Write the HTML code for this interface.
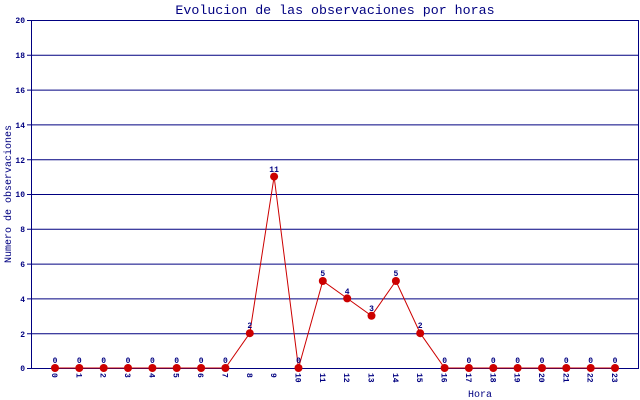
<!DOCTYPE html>
<html><head><style>body{margin:0;background:#fff}svg{display:block}</style></head>
<body>
<svg width="640" height="400" xmlns="http://www.w3.org/2000/svg" font-family="Liberation Mono, monospace" fill="#000080">
<text x="335" y="14" font-size="13.3" text-anchor="middle">Evolucion de las observaciones por horas</text>
<g stroke="#000080" stroke-width="1">
<line x1="27" y1="20.5" x2="639" y2="20.5"/>
<line x1="27" y1="55.3" x2="639" y2="55.3"/>
<line x1="27" y1="90.1" x2="639" y2="90.1"/>
<line x1="27" y1="124.9" x2="639" y2="124.9"/>
<line x1="27" y1="159.7" x2="639" y2="159.7"/>
<line x1="27" y1="194.5" x2="639" y2="194.5"/>
<line x1="27" y1="229.3" x2="639" y2="229.3"/>
<line x1="27" y1="264.1" x2="639" y2="264.1"/>
<line x1="27" y1="298.9" x2="639" y2="298.9"/>
<line x1="27" y1="333.7" x2="639" y2="333.7"/>
<line x1="27" y1="368.5" x2="639" y2="368.5"/>
<line x1="31.5" y1="20" x2="31.5" y2="368"/>
<line x1="638.5" y1="20" x2="638.5" y2="368"/>
</g>
<g font-size="8" text-anchor="end" font-weight="bold">
<text x="25" y="23">20</text><text x="25" y="58">18</text><text x="25" y="93">16</text><text x="25" y="128">14</text><text x="25" y="163">12</text><text x="25" y="197">10</text><text x="25" y="232">8</text><text x="25" y="267">6</text><text x="25" y="302">4</text><text x="25" y="337">2</text><text x="25" y="371">0</text>
</g>
<text transform="translate(11,194) rotate(-90)" font-size="10" text-anchor="middle">Numero de observaciones</text>
<text x="480" y="397" font-size="10" text-anchor="middle">Hora</text>
<g font-size="8" text-anchor="start" font-weight="bold">
<text transform="translate(52,373) rotate(90)">0</text><text transform="translate(76.3,373) rotate(90)">1</text><text transform="translate(100.7,373) rotate(90)">2</text><text transform="translate(125,373) rotate(90)">3</text><text transform="translate(149.4,373) rotate(90)">4</text><text transform="translate(173.7,373) rotate(90)">5</text><text transform="translate(198.1,373) rotate(90)">6</text><text transform="translate(222.4,373) rotate(90)">7</text><text transform="translate(246.8,373) rotate(90)">8</text><text transform="translate(271.1,373) rotate(90)">9</text><text transform="translate(295.5,373) rotate(90)">10</text><text transform="translate(319.8,373) rotate(90)">11</text><text transform="translate(344.2,373) rotate(90)">12</text><text transform="translate(368.5,373) rotate(90)">13</text><text transform="translate(392.9,373) rotate(90)">14</text><text transform="translate(417.2,373) rotate(90)">15</text><text transform="translate(441.6,373) rotate(90)">16</text><text transform="translate(465.9,373) rotate(90)">17</text><text transform="translate(490.3,373) rotate(90)">18</text><text transform="translate(514.6,373) rotate(90)">19</text><text transform="translate(539,373) rotate(90)">20</text><text transform="translate(563.3,373) rotate(90)">21</text><text transform="translate(587.7,373) rotate(90)">22</text><text transform="translate(612,373) rotate(90)">23</text>
</g>
<polyline fill="none" stroke="#cc0000" stroke-width="1" points="55,368 79.3,368 103.7,368 128,368 152.4,368 176.7,368 201.1,368 225.4,368 249.8,333.2 274.1,176.6 298.5,368 322.8,281 347.2,298.4 371.5,315.8 395.9,281 420.2,333.2 444.6,368 468.9,368 493.3,368 517.6,368 542,368 566.3,368 590.7,368 615,368"/>
<g fill="#cc0000">
<circle cx="55" cy="368" r="4"/><circle cx="79.3" cy="368" r="4"/><circle cx="103.7" cy="368" r="4"/><circle cx="128" cy="368" r="4"/><circle cx="152.4" cy="368" r="4"/><circle cx="176.7" cy="368" r="4"/><circle cx="201.1" cy="368" r="4"/><circle cx="225.4" cy="368" r="4"/><circle cx="249.8" cy="333.2" r="4"/><circle cx="274.1" cy="176.6" r="4"/><circle cx="298.5" cy="368" r="4"/><circle cx="322.8" cy="281" r="4"/><circle cx="347.2" cy="298.4" r="4"/><circle cx="371.5" cy="315.8" r="4"/><circle cx="395.9" cy="281" r="4"/><circle cx="420.2" cy="333.2" r="4"/><circle cx="444.6" cy="368" r="4"/><circle cx="468.9" cy="368" r="4"/><circle cx="493.3" cy="368" r="4"/><circle cx="517.6" cy="368" r="4"/><circle cx="542" cy="368" r="4"/><circle cx="566.3" cy="368" r="4"/><circle cx="590.7" cy="368" r="4"/><circle cx="615" cy="368" r="4"/>
</g>
<g font-size="8" text-anchor="middle" font-weight="bold">
<text x="55" y="363">0</text><text x="79.3" y="363">0</text><text x="103.7" y="363">0</text><text x="128" y="363">0</text><text x="152.4" y="363">0</text><text x="176.7" y="363">0</text><text x="201.1" y="363">0</text><text x="225.4" y="363">0</text><text x="249.8" y="328">2</text><text x="274.1" y="172">11</text><text x="298.5" y="363">0</text><text x="322.8" y="276">5</text><text x="347.2" y="294">4</text><text x="371.5" y="311">3</text><text x="395.9" y="276">5</text><text x="420.2" y="328">2</text><text x="444.6" y="363">0</text><text x="468.9" y="363">0</text><text x="493.3" y="363">0</text><text x="517.6" y="363">0</text><text x="542" y="363">0</text><text x="566.3" y="363">0</text><text x="590.7" y="363">0</text><text x="615" y="363">0</text>
</g>
</svg>
</body></html>
